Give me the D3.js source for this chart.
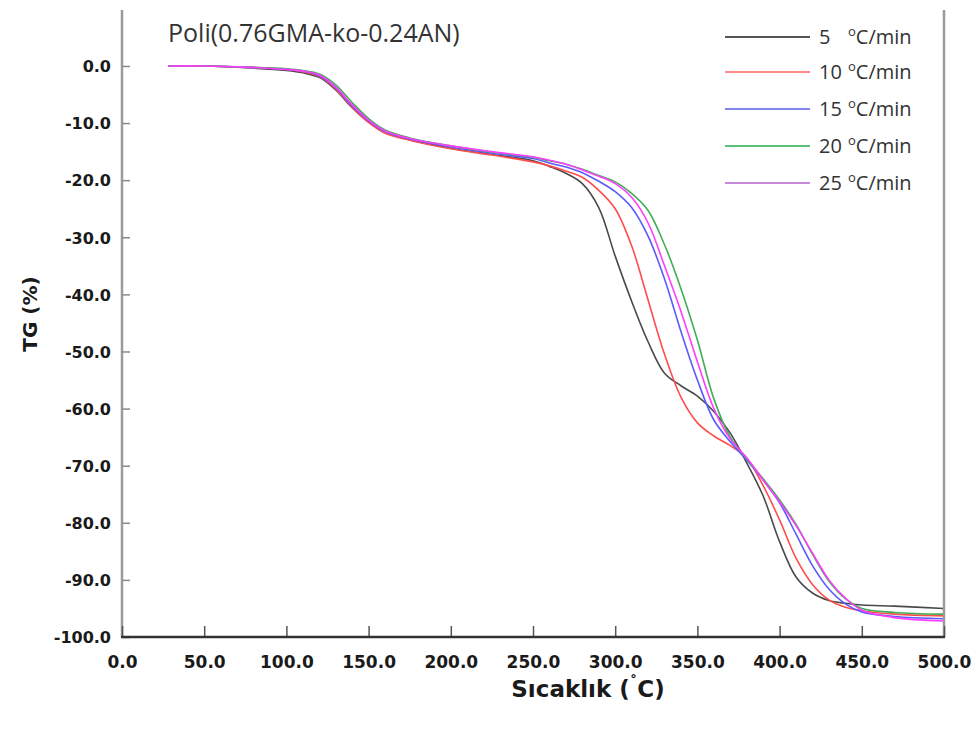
<!DOCTYPE html>
<html>
<head>
<meta charset="utf-8">
<script src="https://cdn.jsdelivr.net/npm/d3@7"></script>
<style>
  body { margin: 0; background: #fff; }
</style>
</head>
<body>
<div id="chart"></div>
<script>
// sicaklik (°C) noktalari, tum seriler icin ortak
const temps = [28, 50, 75, 100, 110, 120, 130, 140, 150, 160, 175, 200, 225, 250, 260, 270, 280, 290,
  300, 310, 320, 330, 340, 350, 360, 370, 380, 390, 400, 410, 420, 430, 440, 450, 470, 500];

const tg5 = [0, 0, -0.3, -0.8, -1.2, -2.0, -4.2, -7.3, -9.8, -11.5, -12.9, -14.4,
  -15.5, -16.6, -17.6, -18.8, -20.6, -24.8, -33.3, -41.2, -48.3, -53.8, -56.0, -57.8,
  -60.5, -64.3, -69.5, -75.3, -83.3, -89.5, -92.3, -93.6, -94.1, -94.4, -94.6, -95.0];
const tg10 = [0, 0, -0.2, -0.6, -1.0, -1.8, -4.0, -7.2, -9.9, -11.8, -13.0, -14.5,
  -15.6, -16.8, -17.5, -18.4, -19.5, -21.8, -25.0, -31.5, -41.0, -50.5, -58.0, -62.5,
  -64.8, -66.5, -68.7, -73.5, -79.5, -86.2, -90.8, -93.5, -94.8, -95.4, -96.0, -96.3];
const tg15 = [0, 0, -0.2, -0.6, -0.9, -1.7, -3.8, -7.0, -9.6, -11.5, -12.8, -14.2,
  -15.3, -16.2, -17.0, -17.7, -18.7, -20.2, -22.0, -24.8, -29.8, -37.3, -46.5, -55.0,
  -62.0, -65.8, -69.0, -72.5, -76.5, -82.0, -87.5, -91.6, -94.2, -95.6, -96.4, -96.8];
const tg20 = [0, 0, -0.2, -0.5, -0.8, -1.4, -3.3, -6.4, -9.2, -11.2, -12.6, -14.0,
  -15.1, -16.0, -16.6, -17.2, -18.1, -19.2, -20.3, -22.3, -25.3, -31.3, -39.0, -48.0,
  -58.3, -65.0, -68.8, -72.3, -76.0, -80.3, -85.5, -90.2, -93.3, -95.0, -95.7, -96.0];
const tg25 = [0, 0, -0.2, -0.6, -0.9, -1.6, -3.7, -6.8, -9.5, -11.4, -12.7, -14.0,
  -15.0, -15.9, -16.5, -17.2, -18.2, -19.3, -20.6, -23.0, -27.5, -35.0, -43.0, -51.8,
  -60.0, -65.3, -68.6, -72.5, -76.3, -80.5, -85.3, -90.0, -93.2, -95.3, -96.6, -97.2];

const rates = ["5", "10", "15", "20", "25"];
const seriesValues = [tg5, tg10, tg15, tg20, tg25];
const lineColors = ["#4a4a4a", "#ff4d4d", "#5a5aff", "#3fae55", "#ff3cff"];
const legendColors = ["#555555", "#ff8a8a", "#8484ee", "#5cc27a", "#c58ad8"];

const xTicks = d3.range(0, 501, 50);
const yTicks = d3.range(0, -101, -10);

const W = 976, H = 733;
const plot = { left: 122, right: 944, top: 10, bottom: 637 };

const svg = d3.select("#chart").append("svg")
  .attr("width", W).attr("height", H)
  .style("font-family", "'DejaVu Sans', sans-serif");

const x = d3.scaleLinear().domain([0, 500]).range([plot.left, plot.right]);
const y = d3.scaleLinear().domain([-100, 9.8]).range([plot.bottom, plot.top]);

// kurvler
const line = d3.line()
  .x((d, i) => x(temps[i]))
  .y(d => y(d))
  .curve(d3.curveCatmullRom.alpha(0.5));

svg.append("g")
  .selectAll("path")
  .data(seriesValues)
  .join("path")
  .attr("d", d => line(d))
  .attr("fill", "none")
  .attr("stroke", (d, i) => lineColors[i])
  .attr("stroke-width", 1.6);

// cerceve
svg.append("line").attr("x1", plot.left).attr("x2", plot.left)
  .attr("y1", plot.top).attr("y2", plot.bottom)
  .attr("stroke", "#9a9a9a").attr("stroke-width", 2.5);
svg.append("line").attr("x1", plot.right).attr("x2", plot.right)
  .attr("y1", plot.top).attr("y2", plot.bottom)
  .attr("stroke", "#9a9a9a").attr("stroke-width", 2.5);

const fmt = d => d.toFixed(1);

// y ekseni
const yAxis = svg.append("g")
  .attr("transform", `translate(${plot.left},0)`)
  .call(d3.axisRight(y).tickValues(yTicks).tickSize(8).tickFormat(fmt));
yAxis.select(".domain").remove();
yAxis.selectAll(".tick line").attr("stroke", "#8a8a8a").attr("stroke-width", 1.5);
yAxis.selectAll(".tick text")
  .attr("x", -11).attr("text-anchor", "end").attr("dy", "0.36em")
  .attr("fill", "#1a1a1a").attr("font-size", 16).attr("font-weight", "bold")
  .attr("font-family", "'DejaVu Sans', sans-serif");

// x ekseni
const xAxis = svg.append("g")
  .attr("transform", `translate(0,${plot.bottom})`)
  .call(d3.axisTop(x).tickValues(xTicks).tickSize(11).tickFormat(fmt));
xAxis.select(".domain").remove();
xAxis.selectAll(".tick line").attr("stroke", "#555").attr("stroke-width", 1.5);
xAxis.selectAll(".tick text")
  .attr("y", 31).attr("dy", 0).attr("text-anchor", "middle")
  .attr("fill", "#1a1a1a").attr("font-size", 17).attr("font-weight", "bold")
  .attr("font-family", "'DejaVu Sans', sans-serif");
svg.append("line").attr("x1", plot.left - 1).attr("x2", plot.right + 1)
  .attr("y1", plot.bottom).attr("y2", plot.bottom)
  .attr("stroke", "#333").attr("stroke-width", 2.5);

// eksen basliklari
svg.append("text")
  .attr("transform", "translate(37,314) rotate(-90)")
  .attr("text-anchor", "middle")
  .attr("font-size", 20).attr("font-weight", "bold").attr("fill", "#1a1a1a")
  .text("TG (%)");

const xt = svg.append("text")
  .attr("x", 588).attr("y", 697)
  .attr("text-anchor", "middle")
  .attr("font-size", 23).attr("font-weight", "bold").attr("fill", "#1a1a1a");
xt.append("tspan").text("Sıcaklık (");
xt.append("tspan").attr("font-size", 15).attr("dy", -9).text("˚");
xt.append("tspan").attr("dy", 9).text("C)");

// baslik
svg.append("text")
  .attr("x", 168).attr("y", 42)
  .attr("font-family", "'Open Sans', sans-serif")
  .attr("font-size", 25).attr("fill", "#333")
  .text("Poli(0.76GMA-ko-0.24AN)");

// lejant
const legendY = [37, 72, 109, 146, 183];
const legend = svg.append("g").selectAll("g")
  .data(rates)
  .join("g")
  .attr("transform", (d, i) => `translate(0,${legendY[i]})`);
legend.append("line")
  .attr("x1", 725).attr("x2", 810)
  .attr("stroke", (d, i) => legendColors[i]).attr("stroke-width", 2);
const lt = legend.append("text")
  .attr("x", 819).attr("y", 7)
  .attr("font-family", "'Open Sans', sans-serif")
  .attr("font-size", 20).attr("fill", "#333");
lt.append("tspan").text(d => d);
lt.append("tspan").attr("x", 848).attr("dy", -8).attr("font-size", 13).text("o");
lt.append("tspan").attr("dy", 8).text("C/min");
</script>
</body>
</html>
